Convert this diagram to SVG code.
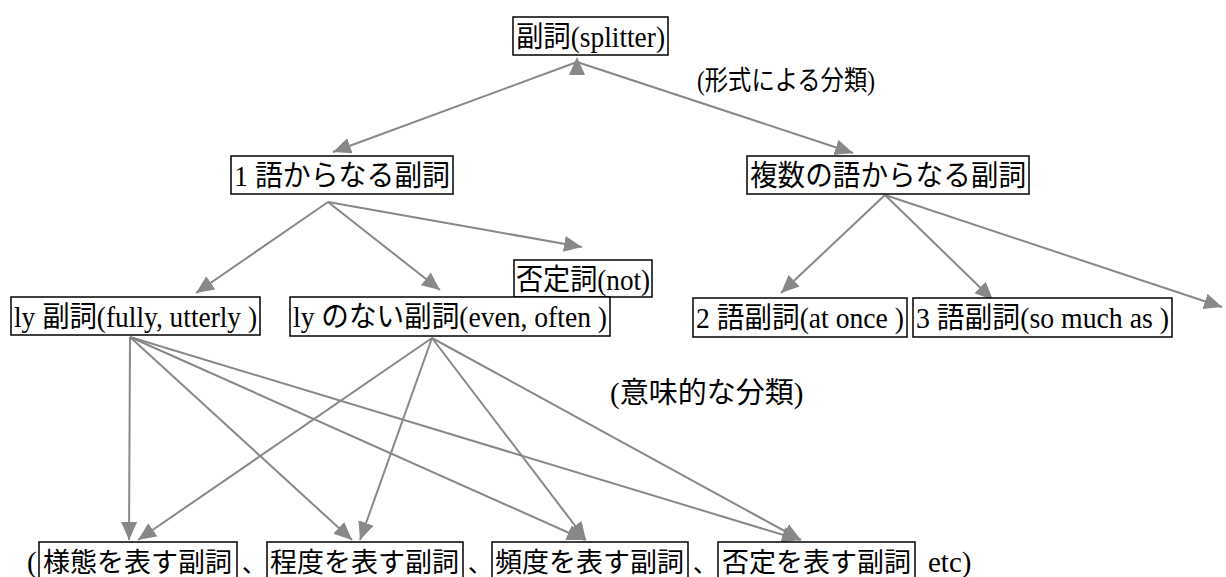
<svg xmlns="http://www.w3.org/2000/svg" width="1226" height="577" viewBox="0 0 1226 577">
<defs>
<style>
.box{fill:#fff;stroke:#000;stroke-width:1.5}
.t{font-family:"Liberation Serif","Noto Sans CJK JP",serif;font-size:29px;fill:#000}
.b{font-size:27px}
.c line{stroke:#888;stroke-width:2;fill:none;marker-end:url(#ah)}
.ah{fill:#888}
</style>
<marker id="ah" markerUnits="userSpaceOnUse" markerWidth="20" markerHeight="18" refX="18" refY="8" orient="auto">
<path d="M0,0 L18,8 L0,16 z" fill="#888"/>
</marker>
</defs>
<rect width="1226" height="577" fill="#fff"/>
<g id="connectors" class="c">
<line x1="577" y1="62" x2="333" y2="152"/>
<line x1="577" y1="62" x2="853" y2="153"/>
<polygon class="ah" points="577,57 569,75 585,75"/>
<line x1="328" y1="202" x2="196" y2="293"/>
<line x1="328" y1="202" x2="440" y2="290"/>
<line x1="328" y1="202" x2="582" y2="247"/>
<line x1="885" y1="195" x2="781" y2="293"/>
<line x1="885" y1="195" x2="993" y2="300"/>
<line x1="885" y1="195" x2="1222" y2="307"/>
<line x1="130" y1="337" x2="129" y2="540"/>
<line x1="130" y1="337" x2="352" y2="540"/>
<line x1="130" y1="337" x2="585" y2="540"/>
<line x1="130" y1="337" x2="800" y2="540"/>
<line x1="432" y1="338" x2="138" y2="540"/>
<line x1="432" y1="338" x2="360" y2="540"/>
<line x1="432" y1="338" x2="586" y2="540"/>
<line x1="432" y1="338" x2="801" y2="540"/>
</g>
<g id="n-splitter"><rect class="box" x="513" y="17" width="155" height="38"/><text class="t" x="516" y="47" textLength="149" lengthAdjust="spacingAndGlyphs">副詞(splitter)</text></g>
<g id="lbl-form"><text class="t" x="697" y="90" style="font-size:27px" textLength="178" lengthAdjust="spacingAndGlyphs">(形式による分類)</text></g>
<g id="n-one"><rect class="box" x="231" y="156" width="222" height="38"/><text class="t" x="234" y="186" textLength="216" lengthAdjust="spacingAndGlyphs">1 語からなる副詞</text></g>
<g id="n-multi"><rect class="box" x="747" y="156" width="282" height="38"/><text class="t" x="750" y="186" textLength="276" lengthAdjust="spacingAndGlyphs">複数の語からなる副詞</text></g>
<g id="n-not"><rect class="box" x="514" y="260" width="138" height="37"/><text class="t" x="516" y="290" textLength="134" lengthAdjust="spacingAndGlyphs">否定詞(not)</text></g>
<g id="n-ly"><rect class="box" x="11" y="297" width="249" height="38"/><text class="t" x="14" y="327" textLength="243" lengthAdjust="spacingAndGlyphs">ly 副詞(fully, utterly )</text></g>
<g id="n-noly"><rect class="box" x="290" y="297" width="320" height="39"/><text class="t" x="293" y="327" textLength="314" lengthAdjust="spacingAndGlyphs">ly のない副詞(even, often )</text></g>
<g id="n-two"><rect class="box" x="693" y="298" width="214" height="39"/><text class="t" x="696" y="328" textLength="208" lengthAdjust="spacingAndGlyphs">2 語副詞(at once )</text></g>
<g id="n-three"><rect class="box" x="913" y="298" width="259" height="39"/><text class="t" x="916" y="328" textLength="253" lengthAdjust="spacingAndGlyphs">3 語副詞(so much as )</text></g>
<g id="lbl-meaning"><text class="t" x="610" y="403">(意味的な分類)</text></g>
<g id="lbl-row"><text class="t" x="27" y="572">(</text><text class="t" x="242" y="572" style="font-size:24px">、</text><text class="t" x="468" y="572" style="font-size:24px">、</text><text class="t" x="693" y="572" style="font-size:24px">、</text><text class="t" x="928" y="572">etc)</text></g>
<g id="n-manner"><rect class="box" x="39" y="542" width="198" height="50"/><text class="t b" x="43" y="572">様態を表す副詞</text></g>
<g id="n-degree"><rect class="box" x="267" y="542" width="196" height="50"/><text class="t b" x="270" y="572">程度を表す副詞</text></g>
<g id="n-freq"><rect class="box" x="492" y="542" width="196" height="50"/><text class="t b" x="495" y="572">頻度を表す副詞</text></g>
<g id="n-neg"><rect class="box" x="718" y="542" width="197" height="50"/><text class="t b" x="722" y="572">否定を表す副詞</text></g>
</svg>
